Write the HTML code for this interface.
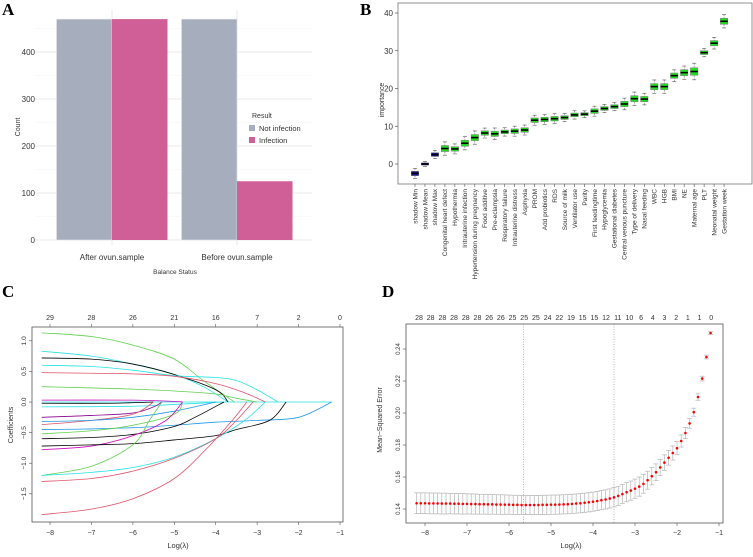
<!DOCTYPE html>
<html><head><meta charset="utf-8"><style>
body{margin:0;background:#fff}
svg{display:block;font-family:"Liberation Sans",sans-serif}
</style></head><body>
<svg id="s" width="753" height="557" viewBox="0 0 753 557" xmlns="http://www.w3.org/2000/svg">
<text x="2" y="15" font-family="Liberation Serif" font-weight="bold" font-size="17">A</text>
<text x="360" y="15" font-family="Liberation Serif" font-weight="bold" font-size="17">B</text>
<text x="2" y="297" font-family="Liberation Serif" font-weight="bold" font-size="17">C</text>
<text x="382" y="297" font-family="Liberation Serif" font-weight="bold" font-size="17">D</text>
<g id="A"></g>
<g id="B"></g>
<g id="C"></g>
<g id="D"></g>
</svg>
<script>
// ---- Panel A data
const aCats=["After ovun.sample","Before ovun.sample"];
const aNotInf=[470,470];
const aInf=[470,125];
const aTicks=[0,100,200,300,400];
// ---- Panel B data
const bNames=["shadow Min","shadow Mean","shadow Max","Congenital heart defect","Hypothermia","Intrauterine infection","Hypertension during pregnancy","Food additive","Pre-eclampsia","Respiratory failure","Intrauterine distress","Asphyxia","PROM","Add probiotics","RDS","Source of milk","Ventilator use","Parity","First feedingtime","Hypoglycemia","Gestational diabetes","Central venous puncture","Type of delivery","Nasal feeding","WBC","HGB","BMI","NE","Maternal age","PLT","Neonatal weight","Gestation week"];
const bMed=[-2.5,0,2.5,4.1,4,5.5,7,8.2,8,8.5,8.7,9,11.6,11.8,12,12.3,13,13.2,14,14.7,15.2,15.9,17.3,17.2,20.5,20.5,23.4,24.2,24.5,29.5,32,37.8];
const bSpread=[0.6,0.3,0.5,0.8,0.6,0.8,0.8,0.6,0.7,0.5,0.6,0.6,0.6,0.6,0.6,0.5,0.5,0.4,0.6,0.5,0.5,0.7,0.8,0.7,0.8,0.8,0.7,0.8,1.0,0.5,0.7,0.8];
const bTicks=[0,10,20,30,40];
// ---- Panel C data
const cTop=["29","28","26","21","16","7","2","0"];
const cXT=[-8,-7,-6,-5,-4,-3,-2,-1];
const cYT=[1.0,0.5,0.0,-0.5,-1.0,-1.5];
const cColors=["#61d04f","#28e2e5","#000000","#28e2e5","#df536b","#61d04f","#cd0bbc","#000000","#28e2e5","#8b008b","#df536b","#2297e6","#2297e6","#61d04f","#000000","#cd0bbc","#000000","#61d04f","#28e2e5","#df536b","#df536b"];
const cPaths=[
[[-8.2,1.13],[-7,1.07],[-6,0.93],[-5,0.7],[-4.3,0.35],[-3.55,0]],
[[-8.2,0.83],[-7,0.75],[-6,0.62],[-5,0.45],[-4.3,0.25],[-3.7,0]],
[[-8.2,0.72],[-7,0.7],[-6,0.62],[-5,0.45],[-4,0.2],[-3.7,0]],
[[-8.2,0.6],[-7,0.58],[-6,0.52],[-5,0.43],[-4,0.4],[-3.5,0.35],[-3,0.2],[-2.5,0]],
[[-8.2,0.48],[-7,0.47],[-6,0.46],[-5,0.42],[-4,0.3],[-3.3,0.15],[-2.8,0]],
[[-8.2,0.25],[-7,0.23],[-6,0.21],[-5,0.18],[-4,0.13],[-3.5,0.06],[-3,0]],
[[-8.2,0.03],[-6,0.03],[-5,0.01],[-4.8,0]],
[[-8.2,-0.02],[-6.5,-0.02],[-5.5,0]],
[[-8.2,-0.08],[-6,-0.07],[-5,-0.04],[-3.8,0]],
[[-8.2,-0.25],[-7,-0.22],[-6,-0.18],[-5.5,-0.08],[-5.3,0]],
[[-8.2,-0.37],[-7,-0.3],[-6,-0.2],[-5.5,0]],
[[-8.2,-0.32],[-7,-0.3],[-6,-0.25],[-5,-0.15],[-4,0]],
[[-8.2,-0.45],[-7,-0.44],[-6,-0.42],[-5,-0.38],[-4,-0.33],[-3,-0.3],[-2,-0.25],[-1.2,0]],
[[-8.2,-0.52],[-7,-0.47],[-6,-0.38],[-5,-0.2],[-4.8,0]],
[[-8.2,-0.6],[-7,-0.58],[-6,-0.53],[-5,-0.4],[-4.5,-0.25],[-3.8,0]],
[[-8.2,-0.78],[-7,-0.72],[-6,-0.55],[-5.2,-0.3],[-4.8,0]],
[[-8.2,-0.72],[-7,-0.7],[-6,-0.68],[-5,-0.62],[-4,-0.55],[-3.5,-0.45],[-2.7,-0.3],[-2.3,0]],
[[-8.2,-1.2],[-7,-1.05],[-6,-0.7],[-5.6,-0.3],[-5.3,0]],
[[-8.2,-1.2],[-7,-1.15],[-6,-1.07],[-5,-0.9],[-4,-0.6],[-3.3,-0.3],[-2.8,0]],
[[-8.2,-1.3],[-7,-1.25],[-6,-1.13],[-5,-0.92],[-4,-0.6],[-3.5,-0.3],[-3.1,0]],
[[-8.2,-1.84],[-7,-1.75],[-6,-1.58],[-5,-1.25],[-4.2,-0.75],[-3.6,-0.3],[-3.25,0]]
];
// ---- Panel D data
const dTop=["28","28","28","28","28","28","26","26","25","25","25","24","22","19","15","15","12","11","10","6","4","3","2","1","1","0"];
const dXT=[-8,-7,-6,-5,-4,-3,-2,-1];
const dYT=[0.14,0.16,0.18,0.20,0.22,0.24];
const dStart=-8.2, dStep=0.1;
const dMse=[0.1436,0.1436,0.1436,0.1435,0.1435,0.1435,0.1434,0.1434,0.1434,0.1433,0.1433,0.1432,0.1432,0.1431,0.1431,0.1430,0.1430,0.1429,0.1429,0.1428,0.1428,0.1427,0.1427,0.1426,0.1426,0.1425,
0.1425,0.1425,0.1425,0.1425,0.1426,0.1426,0.1427,0.1427,0.1428,0.1429,
0.1430,0.1432,0.1434,0.1436,0.1439,0.1442,0.1446,0.1450,0.1455,0.1460,
0.1466,0.1473,0.1482,0.1493,0.1505,0.1515,0.1527,0.1540,0.1557,0.1580,
0.1605,0.1630,0.1660,0.1690,0.1720,0.1750,0.1780,0.1825,0.1875,0.1935,0.2005,0.2100,0.2215,0.2350,0.2500];
const dSd=[0.0065,0.0065,0.0065,0.0065,0.0065,0.0065,0.0065,0.0065,0.0064,0.0064,0.0064,0.0064,0.0063,0.0063,0.0063,0.0062,0.0062,0.0062,0.0061,0.0061,0.0061,0.0061,0.006,0.006,0.006,0.006,
0.006,0.006,0.006,0.006,0.006,0.006,0.006,0.006,0.006,0.006,
0.006,0.006,0.006,0.006,0.006,0.006,0.006,0.006,0.006,0.006,
0.006,0.006,0.006,0.006,0.006,0.006,0.006,0.006,0.0058,0.0056,
0.0054,0.0052,0.005,0.0048,0.0046,0.0044,0.0041,0.0038,0.0035,0.003,0.0025,0.002,0.0015,0.0012,0.0008];
const dVlines=[-5.65,-3.5];

const NS="http://www.w3.org/2000/svg";
function mk(p,tag,at,txt){const e=document.createElementNS(NS,tag);for(const k in at)e.setAttribute(k,at[k]);if(txt!==undefined)e.textContent=txt;p.appendChild(e);return e;}

// ===== A
(function(){
const g=document.getElementById('A');
const y=v=>240-v*0.47, x0=35,x1=312;
for(let v=50;v<=450;v+=100){const l=mk(g,'line',{x1:x0,x2:x1,y1:y(v),y2:y(v),stroke:'#f3f3f3','stroke-width':0.6});

}
aTicks.forEach(v=>{const l=mk(g,'line',{x1:x0,x2:x1,y1:y(v),y2:y(v),stroke:'#e8e8e8','stroke-width':1});


const t=mk(g,'text',{x:35,y:y(v)+3,'font-size':8,'text-anchor':'end',fill:'#333'},v);

});
const cx=[112,237];
aCats.forEach((c,i)=>{
mk(g,'line',{x1:cx[i],x2:cx[i],y1:10,y2:245,stroke:'#e8e8e8'});
const b1=mk(g,'rect',{x:cx[i]-55.5,y:y(aNotInf[i]),width:55.5,height:y(0)-y(aNotInf[i]),fill:'#a6adbd',stroke:'#e3e5ea','stroke-width':0.6});


const b2=mk(g,'rect',{x:cx[i],y:y(aInf[i]),width:55.5,height:y(0)-y(aInf[i]),fill:'#d05f97'});


const t=mk(g,'text',{x:cx[i],y:260,'font-size':8,'text-anchor':'middle',fill:'#333'},c);

});
const xt=mk(g,'text',{x:175,y:274,'font-size':6.5,'text-anchor':'middle',fill:'#333'},'Balance Status');

const yt=mk(g,'text',{x:0,y:0,'font-size':7,'text-anchor':'middle',fill:'#333',transform:'translate(20,127) rotate(-90)'},'Count');

const lt=mk(g,'text',{x:252,y:118,'font-size':7,fill:'#333'},'Result');

[['Not infection','#a6adbd',128],['Infection','#d05f97',140]].forEach(([n,c,yy])=>{
const r=mk(g,'rect',{x:249,y:yy-3,width:6,height:6,fill:c});

const t=mk(g,'text',{x:259,y:yy+3,'font-size':7.5,fill:'#333'},n);
});
})();

// ===== B
(function(){
const g=document.getElementById('B');
const y=v=>164-v*3.775, x=i=>415+i*9.97;
const f=mk(g,'rect',{x:398,y:3,width:354,height:181,fill:'none',stroke:'#777','stroke-width':0.8});

bTicks.forEach(v=>{mk(g,'line',{x1:395,x2:398,y1:y(v),y2:y(v),stroke:'#555','stroke-width':0.7});
const t=mk(g,'text',{x:393,y:y(v)+3,'font-size':8,'text-anchor':'end',fill:'#333'},v);
});
const yt=mk(g,'text',{x:0,y:0,'font-size':7,'text-anchor':'middle',fill:'#333',transform:'translate(384,100) rotate(-90)'},'importance');

bNames.forEach((n,i)=>{
const cx=x(i),m=bMed[i],s=bSpread[i],col=i<3?'#1a1aa0':'#22dd22';
mk(g,'line',{x1:cx,x2:cx,y1:y(m+s*2.2),y2:y(m-s*2.2),stroke:'#666','stroke-width':0.6,'stroke-dasharray':'1.5,1'});
mk(g,'line',{x1:cx-2,x2:cx+2,y1:y(m+s*2.2),y2:y(m+s*2.2),stroke:'#555','stroke-width':0.6});
mk(g,'line',{x1:cx-2,x2:cx+2,y1:y(m-s*2.2),y2:y(m-s*2.2),stroke:'#555','stroke-width':0.6});
const b=mk(g,'rect',{x:cx-3.7,y:y(m+s),width:7.4,height:y(m-s)-y(m+s),fill:col,stroke:'#777','stroke-width':0.5});

mk(g,'line',{x1:cx-3.7,x2:cx+3.7,y1:y(m),y2:y(m),stroke:'#000','stroke-width':1.6});
mk(g,'line',{x1:cx,x2:cx,y1:184,y2:187,stroke:'#555','stroke-width':0.6});
const t=mk(g,'text',{x:0,y:0,'font-size':6.5,'text-anchor':'end',fill:'#333',transform:`translate(${cx+2.3},189) rotate(-90)`},n);
});
})();

// ===== C
(function(){
const g=document.getElementById('C');
const X=v=>50+(v+8)*41.43, Y=v=>402-v*61.2;
const f=mk(g,'rect',{x:32,y:327,width:311,height:195,fill:'none',stroke:'#555','stroke-width':0.8});

cXT.forEach((v,i)=>{mk(g,'line',{x1:X(v),x2:X(v),y1:522,y2:525,stroke:'#555','stroke-width':0.6});
const t=mk(g,'text',{x:X(v),y:535,'font-size':7,'text-anchor':'middle',fill:'#333'},v===0?'0':'\u2212'+Math.abs(v));

mk(g,'line',{x1:X(v),x2:X(v),y1:324,y2:327,stroke:'#555','stroke-width':0.6});
const t2=mk(g,'text',{x:X(v),y:320,'font-size':7,'text-anchor':'middle',fill:'#333'},cTop[i]);
});
cYT.forEach(v=>{mk(g,'line',{x1:29,x2:32,y1:Y(v),y2:Y(v),stroke:'#555','stroke-width':0.6});
const t=mk(g,'text',{x:0,y:0,'font-size':6.5,'text-anchor':'middle',fill:'#333',transform:`translate(26,${Y(v)}) rotate(-90)`},v.toFixed(1).replace('-','\u2212'));
});
const xt=mk(g,'text',{x:178,y:548,'font-size':7.5,'text-anchor':'middle',fill:'#333'},'Log(λ)');

const yt=mk(g,'text',{x:0,y:0,'font-size':7,'text-anchor':'middle',fill:'#333',transform:'translate(13,425) rotate(-90)'},'Coefficients');

const z=mk(g,'line',{x1:X(-8.2),x2:X(-1.2),y1:Y(0),y2:Y(0),stroke:'#28e2e5','stroke-width':0.8});

cPaths.forEach((p,i)=>{
const P=p.map(q=>[X(q[0]),Y(q[1])]);
let d='M'+P[0][0].toFixed(2)+','+P[0][1].toFixed(2);
for(let k=0;k<P.length-1;k++){
const p0=P[Math.max(k-1,0)],p1=P[k],p2=P[k+1],p3=P[Math.min(k+2,P.length-1)];
const c1=[p1[0]+(p2[0]-p0[0])/6,p1[1]+(p2[1]-p0[1])/6];
const c2=[p2[0]-(p3[0]-p1[0])/6,p2[1]-(p3[1]-p1[1])/6];
d+=` C${c1[0].toFixed(2)},${c1[1].toFixed(2)} ${c2[0].toFixed(2)},${c2[1].toFixed(2)} ${p2[0].toFixed(2)},${p2[1].toFixed(2)}`;}
const e=mk(g,'path',{d:d,fill:'none',stroke:cColors[i],'stroke-width':0.8});

});
})();

// ===== D
(function(){
const g=document.getElementById('D');
const X=v=>425+(v+8)*42, Y=v=>509-(v-0.14)*1600;
const f=mk(g,'rect',{x:406,y:324,width:317,height:199,fill:'none',stroke:'#555','stroke-width':0.8});

dXT.forEach(v=>{mk(g,'line',{x1:X(v),x2:X(v),y1:523,y2:526,stroke:'#555','stroke-width':0.6});
const t=mk(g,'text',{x:X(v),y:535,'font-size':7,'text-anchor':'middle',fill:'#333'},'\u2212'+Math.abs(v));
});
dTop.forEach((s,i)=>{const t=mk(g,'text',{x:419+i*11.69,y:320,'font-size':7,'text-anchor':'middle',fill:'#333'},s);
});
dYT.forEach(v=>{mk(g,'line',{x1:403,x2:406,y1:Y(v),y2:Y(v),stroke:'#555','stroke-width':0.6});
const t=mk(g,'text',{x:0,y:0,'font-size':6,'text-anchor':'middle',fill:'#333',transform:`translate(400,${Y(v)}) rotate(-90)`},v.toFixed(2));
});
const xt=mk(g,'text',{x:571,y:548,'font-size':7.5,'text-anchor':'middle',fill:'#333'},'Log(λ)');

const yt=mk(g,'text',{x:0,y:0,'font-size':7,'text-anchor':'middle',fill:'#333',transform:'translate(382,420) rotate(-90)'},'Mean\u2212Squared Error');

dVlines.forEach(v=>{const l=mk(g,'line',{x1:X(v),x2:X(v),y1:324,y2:523,stroke:'#888','stroke-width':0.6,'stroke-dasharray':'1,1.5'});
});
dMse.forEach((m,i)=>{const xv=X(dStart+i*dStep),s=dSd[i];
mk(g,'line',{x1:xv,x2:xv,y1:Y(m+s),y2:Y(m-s),stroke:'#b5b5b5','stroke-width':0.7});
mk(g,'line',{x1:xv-2.5,x2:xv+2.5,y1:Y(m+s),y2:Y(m+s),stroke:'#b5b5b5','stroke-width':0.7});
mk(g,'line',{x1:xv-2.5,x2:xv+2.5,y1:Y(m-s),y2:Y(m-s),stroke:'#b5b5b5','stroke-width':0.7});
const c=mk(g,'circle',{cx:xv,cy:Y(m),r:1.3,fill:'#ff0000'});

});
})();
</script>
</body></html>
